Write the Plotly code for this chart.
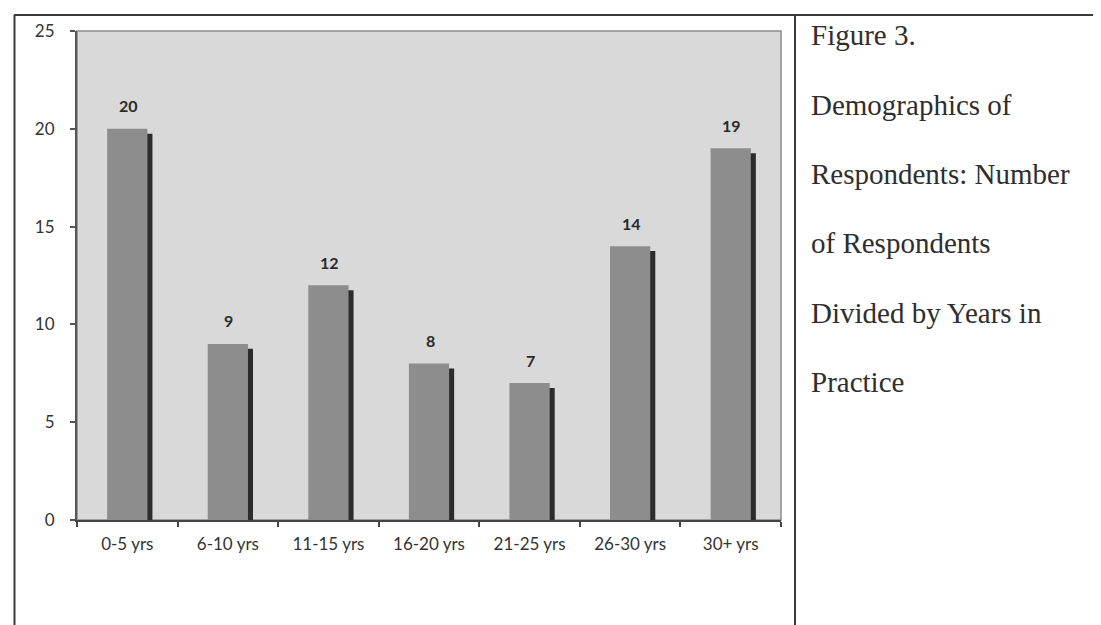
import plotly.graph_objects as go

# ---- data ----
categories = ["0-5 yrs", "6-10 yrs", "11-15 yrs", "16-20 yrs", "21-25 yrs", "26-30 yrs", "30+ yrs"]
respondents = [20, 9, 12, 8, 7, 14, 19]
y_ticks = [0, 5, 10, 15, 20, 25]
caption_lines = ["Figure 3.", "Demographics of", "Respondents: Number",
                 "of Respondents", "Divided by Years in", "Practice"]

# ---- geometry (pixels) ----
W, H = 1101, 625
L, R, T, B = 69, 773, 21, 512          # plot area box
def px(x): return (x - L) / (R - L)
def py(y): return (B - y) / (B - T)

BAR_W = 0.4
SHADOW_DX = 0.05      # category units
SHADOW_DY = 0.25      # value units

fig = go.Figure()

# shadow bars (3-D look)
fig.add_trace(go.Bar(
    x=categories, y=[v - SHADOW_DY for v in respondents],
    width=BAR_W, offset=-BAR_W / 2 + SHADOW_DX,
    marker=dict(color="#2c2c2c", line=dict(width=0)),
    hoverinfo="skip", showlegend=False,
))
# main bars
fig.add_trace(go.Bar(
    x=categories, y=respondents,
    width=BAR_W, offset=-BAR_W / 2,
    marker=dict(color="#8d8d8d", line=dict(width=0)),
    showlegend=False,
))

# data labels
for c, v in zip(categories, respondents):
    fig.add_annotation(x=c, y=v, text=str(v), showarrow=False, yshift=23,
                       font=dict(family="Lato", size=16, color="#2a2a2a", weight="bold"),
                       xshift=1)

# caption text (right column)
for i, line in enumerate(caption_lines):
    baseline = 35 + 69.6 * i
    fig.add_annotation(xref="paper", yref="paper", x=px(801), y=py(baseline - 9.5),
                       xanchor="left", yanchor="middle", text=line, showarrow=False,
                       font=dict(family="Liberation Serif", size=29, color="#2e2e2e"))

# plot area border (top / right, light gray)
fig.add_shape(type="rect", xref="paper", yref="paper", x0=0, x1=1, y0=0, y1=1,
              line=dict(color="#8c8c8c", width=1.5), layer="below")

# table lines
line_style = dict(color="#3a3a3a", width=2)
fig.add_shape(type="line", xref="paper", yref="paper", x0=px(6.5), x1=px(6.5), y0=py(5), y1=py(640), line=line_style)
fig.add_shape(type="line", xref="paper", yref="paper", x0=px(6), x1=px(1110), y0=py(5), y1=py(5), line=line_style)
fig.add_shape(type="line", xref="paper", yref="paper", x0=px(787), x1=px(787), y0=py(5), y1=py(640), line=line_style)

fig.update_layout(
    width=W, height=H,
    margin=dict(l=L, r=W - R, t=T, b=H - B, pad=0),
    paper_bgcolor="white",
    plot_bgcolor="#d9d9d9",
    barmode="overlay",
    bargap=0.6,
    font=dict(family="Lato", size=17, color="#333333"),
)
fig.update_xaxes(
    showline=True, linecolor="#444444", linewidth=2,
    ticks="outside", tickson="boundaries", ticklen=5, tickcolor="#444444", tickwidth=1.5,
    tickfont=dict(family="Lato", size=17, color="#333333"),
    ticklabelstandoff=8, showgrid=False, zeroline=False,
)
fig.update_yaxes(
    range=[0, 25], tickvals=y_ticks, showline=True, linecolor="#555555", linewidth=2,
    ticks="outside", ticklen=5, tickcolor="#555555", tickwidth=1.5,
    tickfont=dict(family="Lato", size=17, color="#333333"),
    ticklabelstandoff=12, showgrid=False, zeroline=False,
)

fig.write_html("out.html")
